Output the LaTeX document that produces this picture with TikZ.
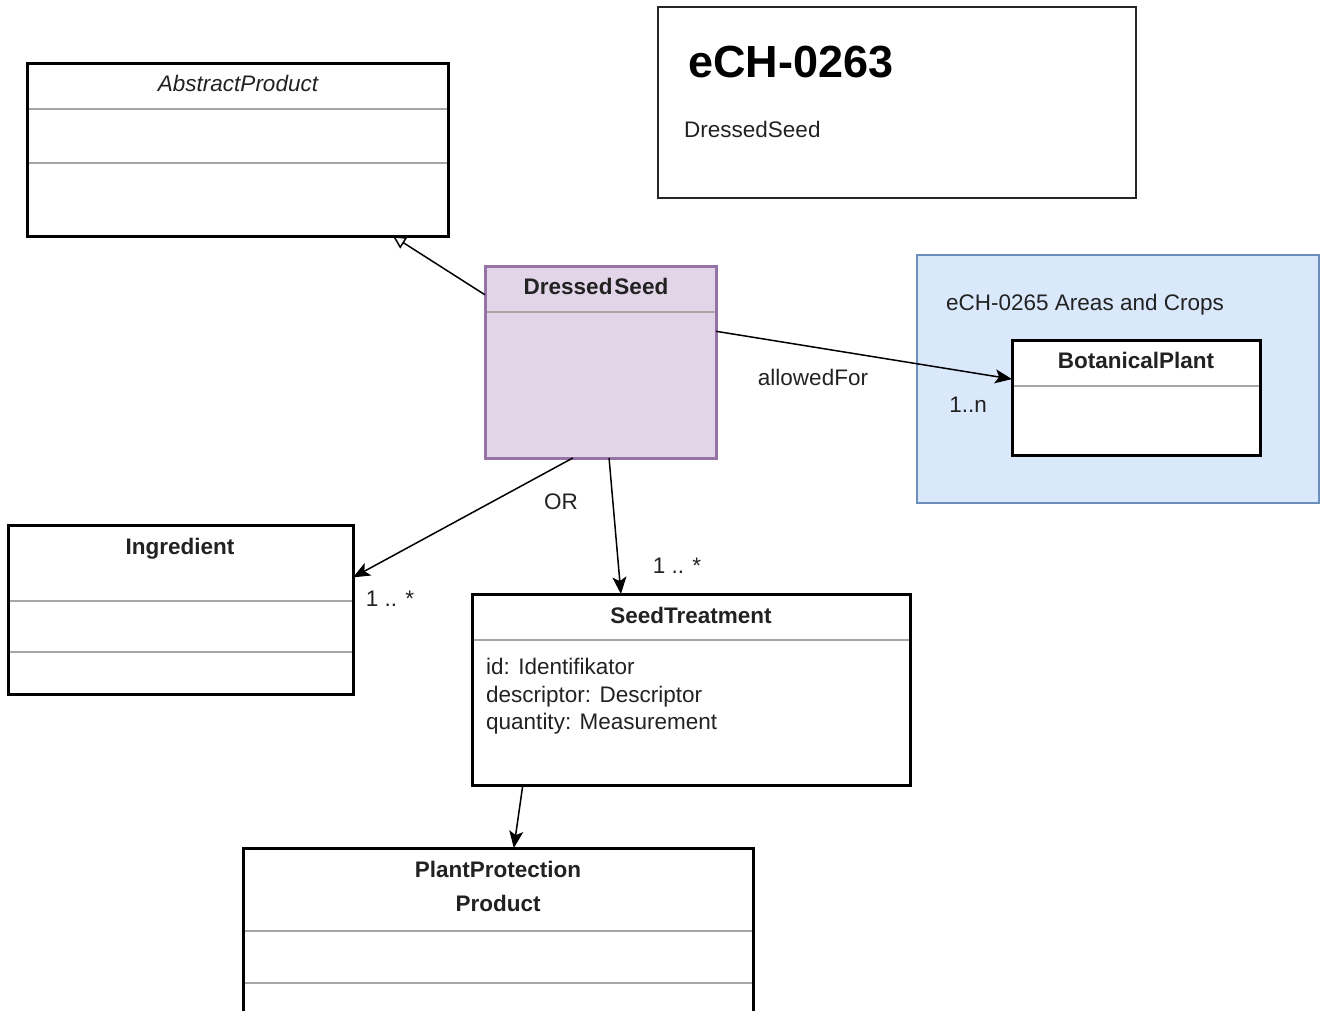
\documentclass[tikz,border=0pt]{standalone}
\usepackage{fontspec}
\setmainfont{Liberation Sans}
\usetikzlibrary{arrows.meta,calc}
\definecolor{dsfill}{HTML}{E1D5E7}
\definecolor{dsline}{HTML}{9673A6}
\definecolor{bfill}{HTML}{DAE8FC}
\definecolor{bline}{HTML}{6C8EBF}
\definecolor{divc}{HTML}{A6A6A6}
\definecolor{txt}{HTML}{222222}
\begin{document}
\begin{tikzpicture}[x=1pt,y=-1pt,
 classbox/.style={draw=black,line width=3pt,fill=white,rectangle,anchor=north west,inner sep=0pt,outer sep=0pt},
 div/.style={draw=divc,line width=1.5pt},
 lbl/.style={font=\fontsize{22.5}{27}\selectfont,text=txt,inner sep=0pt},
 ttl/.style={font=\fontsize{22.5}{27}\selectfont\bfseries,text=txt,inner sep=0pt,anchor=base},
 assoc/.style={draw=black,line width=1.5pt,-{Stealth[length=17pt,width=14pt,inset=4pt]}},
]
\useasboundingbox (0,0) rectangle (1321,1010);
\clip (0,0) rectangle (1321,1010);

% header box
\node[draw=black!85,line width=1.5pt,rectangle,anchor=north west,minimum width=478pt,minimum height=191pt,inner sep=0pt] (hdr) at (657,6) {};
\node[anchor=west,font=\fontsize{45}{54}\selectfont\bfseries,inner sep=0pt] (hdrt) at (688,62) {eCH-0263};
\node[lbl,anchor=base west] (hdrs) at (684,137) {DressedSeed};

% AbstractProduct
\node[classbox,minimum width=421pt,minimum height=173pt] (ap) at (27,63) {};
\draw[div] ($(ap.north west)+(1.5,46)$) -- ($(ap.north east)+(-1.5,46)$);
\draw[div] ($(ap.north west)+(1.5,100)$) -- ($(ap.north east)+(-1.5,100)$);
\node[lbl,anchor=base,font=\fontsize{22.5}{27}\selectfont\itshape] (apt) at (238,91) {AbstractProduct};

% container eCH-0265
\node[fill=bfill,draw=bline,line width=1.5pt,rectangle,anchor=north west,minimum width=402pt,minimum height=248pt,inner sep=0pt] (ac) at (916,254) {};
\node[lbl,anchor=base west] (act) at (946,310) {eCH-0265 Areas and Crops};

% BotanicalPlant
\node[classbox,minimum width=248pt,minimum height=115pt] (bp) at (1012,340) {};
\draw[div] ($(bp.north west)+(1.5,46)$) -- ($(bp.north east)+(-1.5,46)$);
\node[ttl] (bpt) at (1136,368) {BotanicalPlant};

% DressedSeed
\node[classbox,fill=dsfill,draw=dsline,minimum width=231pt,minimum height=192pt] (ds) at (485,266) {};
\draw[div] ($(ds.north west)+(1.5,46)$) -- ($(ds.north east)+(-1.5,46)$);
\node[ttl] (dst) at (596,294) {Dressed\hspace{2pt}Seed};

% Ingredient
\node[classbox,minimum width=345pt,minimum height=169pt] (ing) at (8,525) {};
\draw[div] ($(ing.north west)+(1.5,76)$) -- ($(ing.north east)+(-1.5,76)$);
\draw[div] ($(ing.north west)+(1.5,127)$) -- ($(ing.north east)+(-1.5,127)$);
\node[ttl] (ingt) at (180,554) {Ingredient};

% SeedTreatment
\node[classbox,minimum width=438pt,minimum height=191pt] (st) at (472,594) {};
\draw[div] ($(st.north west)+(1.5,46)$) -- ($(st.north east)+(-1.5,46)$);
\node[ttl] (stt) at (691,623) {SeedTreatment};
\node[lbl,anchor=base west] (st1) at (486,674) {id: Identifikator};
\node[lbl,anchor=base west] (st2) at (486,702) {descriptor: Descriptor};
\node[lbl,anchor=base west] (st3) at (486,729) {quantity: Measurement};

% PlantProtectionProduct
\node[classbox,minimum width=510pt,minimum height=190pt] (ppp) at (243,848) {};
\draw[div] ($(ppp.north west)+(1.5,83)$) -- ($(ppp.north east)+(-1.5,83)$);
\draw[div] ($(ppp.north west)+(1.5,135)$) -- ($(ppp.north east)+(-1.5,135)$);
\node[ttl] (ppt1) at (498,877) {PlantProtection};
\node[ttl] (ppt2) at (498,911) {Product};

% connectors
\draw[line width=1.5pt,-{Triangle[open,length=13pt,width=13pt]}] ($(ds.north west)!0.15!(ds.south west)$) -- ($(ap.south west)!0.869!(ap.south east)$);
\draw[assoc] ($(ds.north east)!0.34!(ds.south east)$) -- ($(bp.north west)!0.34!(bp.south west)$);
\draw[assoc] ($(ds.south west)!0.38!(ds.south east)$) -- ($(ing.north east)!0.31!(ing.south east)$);
\draw[assoc] ($(ds.south west)!0.537!(ds.south east)$) -- ($(st.north west)!0.34!(st.north east)$);
\draw[assoc] ($(st.south west)!0.116!(st.south east)$) -- ($(ppp.north west)!0.531!(ppp.north east)$);

% labels
\node[lbl,anchor=base] (l1) at (813,385) {allowedFor};
\node[lbl,anchor=base] (l2) at (968,412) {1..n};
\node[lbl,anchor=base] (l3) at (561,509) {OR};
\node[lbl,anchor=base] (l4) at (390,606) {1 .. *};
\node[lbl,anchor=base] (l5) at (677,573) {1 .. *};
\end{tikzpicture}
\end{document}
